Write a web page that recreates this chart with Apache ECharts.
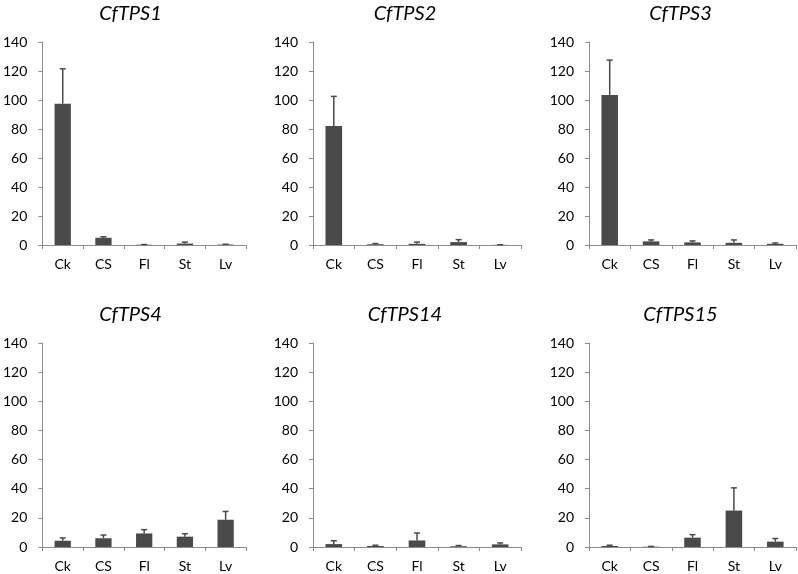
<!DOCTYPE html>
<html>
<head>
<meta charset="utf-8">
<script src="https://cdn.jsdelivr.net/npm/echarts@6/dist/echarts.min.js"></script>
<style>
html,body{margin:0;padding:0;background:#fff;}
#c{width:798px;height:574px;}
</style>
</head>
<body>
<div id="c"></div>
<script>
const categories = ['Ck', 'CS', 'Fl', 'St', 'Lv'];
const genes = ['CfTPS1', 'CfTPS2', 'CfTPS3', 'CfTPS4', 'CfTPS14', 'CfTPS15'];
const yTicks = [0, 20, 40, 60, 80, 100, 120, 140];

const meanTPS1 = [97.5, 5.0, 0.2, 1.0, 0.3];
const errTPS1  = [24.0, 0.7, 0.1, 1.0, 0.2];
const meanTPS2 = [82.0, 0.5, 0.8, 2.0, 0.1];
const errTPS2  = [20.5, 0.5, 1.2, 1.7, 0.1];
const meanTPS3 = [103.5, 2.5, 1.8, 1.5, 0.8];
const errTPS3  = [24.0, 1.0, 1.0, 2.0, 0.6];
const meanTPS4 = [4.3, 6.0, 9.3, 7.1, 18.7];
const errTPS4  = [1.9, 2.2, 2.6, 2.0, 5.7];
const meanTPS14 = [2.0, 0.7, 4.5, 0.5, 1.8];
const errTPS14  = [2.3, 0.5, 5.1, 0.5, 1.0];
const meanTPS15 = [0.7, 0.2, 6.4, 25.0, 3.7];
const errTPS15  = [0.5, 0.2, 2.1, 15.6, 2.1];

const means = [meanTPS1, meanTPS2, meanTPS3, meanTPS4, meanTPS14, meanTPS15];
const errs  = [errTPS1, errTPS2, errTPS3, errTPS4, errTPS14, errTPS15];

const FONT = 'Lato, "Open Sans", sans-serif';
const axisColor = '#8c8c8c';
const barColor = '#4a4a4a';

const gridLefts = [39, 313, 589];
const gridWidths = [207, 208, 207];
const gridTops = [42, 343];
const gridHeights = [203, 204];

const grids = [], xAxes = [], yAxes = [], series = [], titles = [];
for (let i = 0; i < 6; i++) {
  const col = i % 3, row = Math.floor(i / 3);
  grids.push({left: gridLefts[col], top: gridTops[row], width: gridWidths[col], height: gridHeights[row], containLabel: false});
  xAxes.push({
    type: 'category', gridIndex: i, data: categories,
    axisLine: {lineStyle: {color: axisColor, width: 1}},
    axisTick: {show: true, inside: false, length: 4, alignWithLabel: false, lineStyle: {color: axisColor}},
    axisLabel: {color: '#000', fontFamily: FONT, fontSize: 14, margin: 12},
    splitLine: {show: false}
  });
  yAxes.push({
    type: 'value', gridIndex: i, min: 0, max: 140, interval: 20,
    axisLine: {show: true, lineStyle: {color: axisColor, width: 1}},
    axisTick: {show: true, inside: false, length: 4, lineStyle: {color: axisColor}},
    axisLabel: {color: '#000', fontFamily: FONT, fontSize: 14, margin: 15},
    splitLine: {show: false}
  });
  series.push({
    type: 'bar', xAxisIndex: i, yAxisIndex: i, data: means[i],
    barWidth: '40%', itemStyle: {color: barColor}, silent: true
  });
  const ebData = means[i].map((m, k) => [k, m, m + errs[i][k]]);
  series.push({
    type: 'custom', xAxisIndex: i, yAxisIndex: i, data: ebData, silent: true, z: 3,
    renderItem: function (params, api) {
      const x = api.value(0);
      const p0 = api.coord([x, api.value(1)]);
      const p1 = api.coord([x, api.value(2)]);
      const cap = 3;
      return {
        type: 'group',
        children: [
          {type: 'line', shape: {x1: p0[0], y1: p0[1], x2: p1[0], y2: p1[1]}, style: {stroke: '#4a4a4a', lineWidth: 1.5}},
          {type: 'line', shape: {x1: p1[0] - cap, y1: p1[1], x2: p1[0] + cap, y2: p1[1]}, style: {stroke: '#4a4a4a', lineWidth: 1.5}}
        ]
      };
    }
  });
  titles.push({
    text: genes[i],
    left: gridLefts[col] + gridWidths[col] / 2 - 17,
    top: row === 0 ? -1 : 300,
    textAlign: 'center',
    textStyle: {fontFamily: FONT, fontStyle: 'italic', fontWeight: 'normal', fontSize: 20, color: '#000'}
  });
}

const chart = echarts.init(document.getElementById('c'), null, {renderer: 'canvas'});
chart.setOption({
  backgroundColor: '#fff',
  animation: false,
  title: titles,
  grid: grids,
  xAxis: xAxes,
  yAxis: yAxes,
  series: series
});
</script>
</body>
</html>
